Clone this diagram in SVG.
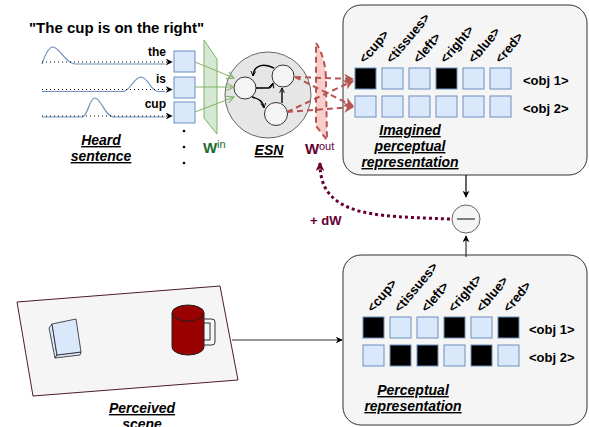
<svg xmlns="http://www.w3.org/2000/svg" width="589" height="427" viewBox="0 0 589 427">
  <style>
    text { font-family: "Liberation Sans", Arial, sans-serif; font-weight: bold; fill: #000; }
    .cap { font-size: 14px; font-style: italic; text-decoration: underline; }
    .word { font-size: 12px; }
    .col { font-size: 13px; }
    .obj { font-size: 13px; }
    .cell { fill: #dae8fc; stroke: #6c8ebf; stroke-width: 1; }
    .on { fill: #000; }
    .panel { fill: #f5f5f5; stroke: #333; stroke-width: 1; }
    .wave { fill: none; stroke: #6c8ebf; stroke-width: 1.2; }
    .tick { fill: none; stroke: #000; stroke-width: 1; stroke-dasharray: 1 3; }
    .node { fill: #f5f5f5; stroke: #333; stroke-width: 1; }
    .rec { fill: none; stroke: #000; stroke-width: 1.4; }
    .win { fill: none; stroke: #82b366; stroke-width: 1; }
    .wout { fill: none; stroke: #b85450; stroke-width: 2; stroke-dasharray: 6 4; }
    .sup { font-size: 11px; font-weight: normal; }
  </style>
  <defs>
    <marker id="blk" viewBox="0 0 10 10" refX="9" refY="5" markerWidth="7" markerHeight="7" orient="auto" markerUnits="userSpaceOnUse">
      <path d="M0,0 L10,5 L0,10 L3,5 Z" fill="#000"/>
    </marker>
    <marker id="open" viewBox="0 0 10 10" refX="9" refY="5" markerWidth="6" markerHeight="6" orient="auto" markerUnits="userSpaceOnUse">
      <path d="M1,1 L9,5 L1,9" fill="none" stroke="#000" stroke-width="1.5"/>
    </marker>
    <marker id="grn" viewBox="0 0 10 10" refX="9" refY="5" markerWidth="9" markerHeight="9" orient="auto" markerUnits="userSpaceOnUse">
      <path d="M1,1 L9,5 L1,9" fill="none" stroke="#82b366" stroke-width="1.2"/>
    </marker>
    <marker id="red" viewBox="0 0 10 10" refX="9" refY="5" markerWidth="10" markerHeight="10" orient="auto" markerUnits="userSpaceOnUse">
      <path d="M0,0 L10,5 L0,10 L3,5 Z" fill="#b85450"/>
    </marker>
    <marker id="mar" viewBox="0 0 10 10" refX="9" refY="5" markerWidth="9" markerHeight="9" orient="auto" markerUnits="userSpaceOnUse">
      <path d="M0,0 L10,5 L0,10 L3,5 Z" fill="#660033"/>
    </marker>
  </defs>

  <!-- sentence heading -->
  <text x="116.5" y="33" font-size="15" text-anchor="middle">"The cup is on the right"</text>

  <!-- word signals -->
  <g id="signals">
    <path class="wave" d="M42,64 C46,52 49,47 53,47 C59,47 66,64 75,64 L165,64"/>
    <path class="wave" d="M42,91.5 L123,91.5 C130,91.5 134,77 141,77 C148,77 151,91.5 158,91.5 L165,91.5"/>
    <path class="wave" d="M42,117 L82,117 C88,117 89,98 95,98 C101,98 105,117 114,117 L165,117"/>
    <path class="tick" d="M42,62 L172,62" marker-end="url(#blk)"/>
    <path class="tick" d="M42,89.5 L172,89.5" marker-end="url(#blk)"/>
    <path class="tick" d="M42,116 L172,116" marker-end="url(#blk)"/>
    <text class="word" x="166" y="56" text-anchor="end">the</text>
    <text class="word" x="166" y="83" text-anchor="end">is</text>
    <text class="word" x="166" y="108" text-anchor="end">cup</text>
    <text class="cap" x="101" y="145" text-anchor="middle">Heard</text>
    <text class="cap" x="101" y="161" text-anchor="middle">sentence</text>
  </g>

  <!-- one-hot input units -->
  <g id="inputs">
    <rect class="cell" x="174" y="51" width="21" height="21"/>
    <rect class="cell" x="174" y="77" width="21" height="21"/>
    <rect class="cell" x="174" y="102" width="21" height="21"/>
    <circle cx="184" cy="131" r="1.3" fill="#000"/>
    <circle cx="184" cy="147" r="1.3" fill="#000"/>
    <circle cx="184" cy="163" r="1.3" fill="#000"/>
  </g>

  <!-- input weights -->
  <g id="w-in">
    <path d="M204,40 L217,59 L217,134 L204,118 Z" fill="#d5e8d4" stroke="#82b366" stroke-width="1"/>
    <text x="203" y="153" font-size="15" style="fill:#1a6b30">W</text>
    <text class="sup" x="217" y="148" style="fill:#1a6b30">in</text>
  </g>

  <!-- reservoir -->
  <g id="esn">
    <circle cx="268" cy="95" r="43" fill="#e6e6e6" stroke="#666" stroke-width="1"/>
    <circle class="node" cx="245" cy="88" r="11"/>
    <circle class="node" cx="283" cy="76" r="11"/>
    <circle class="node" cx="276" cy="114" r="11.5"/>
    <path class="rec" d="M274,68 C266,64 254,63 253,76" marker-end="url(#open)"/>
    <path class="rec" d="M256,88 L268,88 C271,88 272,86 273,83" marker-end="url(#open)"/>
    <path class="rec" d="M252,97 C259,99 263,101 264,108" marker-end="url(#open)"/>
    <path class="rec" d="M282,103 L282,88" marker-end="url(#open)"/>
    <text class="cap" x="269" y="155" text-anchor="middle">ESN</text>
  </g>

  <!-- output weights -->
  <g id="w-out">
    <path d="M316,43 Q326,58 326,82 L327,140 L316,126 Z" fill="#f8cecc" stroke="none"/>
    <path class="wout" d="M316,43 Q326,58 326,82 L327,140 L316,126 Z"/>
    <text x="305" y="154" font-size="15" style="fill:#660033">W</text>
    <text class="sup" x="319" y="150" style="fill:#660033">out</text>
  </g>

  <!-- imagined perceptual representation -->
  <g id="imagined">
    <rect class="panel" x="343" y="5" width="244" height="170" rx="18"/>
    <rect class="cell on" x="355" y="68" width="21" height="21"/>
    <rect class="cell" x="382" y="68" width="21" height="21"/>
    <rect class="cell" x="409" y="68" width="21" height="21"/>
    <rect class="cell on" x="436" y="68" width="21" height="21"/>
    <rect class="cell" x="463" y="68" width="21" height="21"/>
    <rect class="cell" x="490" y="68" width="21" height="21"/>
    <rect class="cell" x="355" y="96" width="21" height="21"/>
    <rect class="cell" x="382" y="96" width="21" height="21"/>
    <rect class="cell" x="409" y="96" width="21" height="21"/>
    <rect class="cell" x="436" y="96" width="21" height="21"/>
    <rect class="cell" x="463" y="96" width="21" height="21"/>
    <rect class="cell" x="490" y="96" width="21" height="21"/>
    <text class="col" transform="translate(365,64) rotate(-50)">&lt;cup&gt;</text>
    <text class="col" transform="translate(392,64) rotate(-50)">&lt;tissues&gt;</text>
    <text class="col" transform="translate(419,64) rotate(-50)">&lt;left&gt;</text>
    <text class="col" transform="translate(446,64) rotate(-50)">&lt;right&gt;</text>
    <text class="col" transform="translate(474,64) rotate(-50)">&lt;blue&gt;</text>
    <text class="col" transform="translate(501,64) rotate(-50)">&lt;red&gt;</text>
    <text class="obj" x="523" y="85">&lt;obj 1&gt;</text>
    <text class="obj" x="523" y="113">&lt;obj 2&gt;</text>
    <text class="cap" x="410" y="135" text-anchor="middle">Imagined</text>
    <text class="cap" x="410" y="151" text-anchor="middle">perceptual</text>
    <text class="cap" x="410" y="167" text-anchor="middle">representation</text>
  </g>

  <!-- difference unit -->
  <g id="minus">
    <circle cx="466" cy="219" r="14" fill="#f5f5f5" stroke="#666" stroke-width="1"/>
    <line x1="457" y1="219" x2="475" y2="219" stroke="#333" stroke-width="1.2"/>
  </g>

  <!-- perceived scene -->
  <g id="scene">
    <polygon points="17,302 220,286 238,380 33,396" fill="#f5f5f5" stroke="#4d1a33" stroke-width="1"/>
    <polygon points="49,328 52,324 57,355 55,358" fill="#dae8fc" stroke="#222" stroke-width="0.8"/>
    <polygon points="57,355 81,352 80,355 55,358" fill="#dae8fc" stroke="#222" stroke-width="0.8"/>
    <polygon points="52,324 76,319 81,352 57,355" fill="#dae8fc" stroke="#222" stroke-width="0.8"/>
    <rect x="201" y="319" width="14" height="26" rx="3" fill="#f5f5f5" stroke="#333" stroke-width="1"/>
    <rect x="203" y="323" width="7" height="17" fill="#f5f5f5" stroke="#333" stroke-width="1"/>
    <path d="M172,313 L172,347 A16,8 0 0 0 204,347 L204,313 Z" fill="#990000" stroke="#222" stroke-width="1"/>
    <ellipse cx="188" cy="313" rx="16" ry="8" fill="#990000" stroke="#222" stroke-width="1"/>
    <text class="cap" x="142" y="413" text-anchor="middle">Perceived</text>
    <text class="cap" x="142" y="429" text-anchor="middle">scene</text>
  </g>

  <!-- perceptual representation -->
  <g id="perceptual">
    <rect class="panel" x="343" y="255" width="244" height="170" rx="18"/>
    <rect class="cell on" x="363" y="317" width="21" height="21"/>
    <rect class="cell" x="390" y="317" width="21" height="21"/>
    <rect class="cell" x="417" y="317" width="21" height="21"/>
    <rect class="cell on" x="444" y="317" width="21" height="21"/>
    <rect class="cell" x="471" y="317" width="21" height="21"/>
    <rect class="cell on" x="498" y="317" width="21" height="21"/>
    <rect class="cell" x="363" y="345" width="21" height="21"/>
    <rect class="cell on" x="390" y="345" width="21" height="21"/>
    <rect class="cell on" x="417" y="345" width="21" height="21"/>
    <rect class="cell" x="444" y="345" width="21" height="21"/>
    <rect class="cell on" x="471" y="345" width="21" height="21"/>
    <rect class="cell" x="498" y="345" width="21" height="21"/>
    <text class="col" transform="translate(373,313) rotate(-50)">&lt;cup&gt;</text>
    <text class="col" transform="translate(400,313) rotate(-50)">&lt;tissues&gt;</text>
    <text class="col" transform="translate(427,313) rotate(-50)">&lt;left&gt;</text>
    <text class="col" transform="translate(454,313) rotate(-50)">&lt;right&gt;</text>
    <text class="col" transform="translate(482,313) rotate(-50)">&lt;blue&gt;</text>
    <text class="col" transform="translate(509,313) rotate(-50)">&lt;red&gt;</text>
    <text class="obj" x="529" y="334">&lt;obj 1&gt;</text>
    <text class="obj" x="529" y="362">&lt;obj 2&gt;</text>
    <text class="cap" x="413" y="395" text-anchor="middle">Perceptual</text>
    <text class="cap" x="413" y="411" text-anchor="middle">representation</text>
  </g>

  <!-- connectors -->
  <g id="connectors">
    <path class="win" d="M195,62 L234,78" marker-end="url(#grn)"/>
    <path class="win" d="M195,87 L234,87" marker-end="url(#grn)"/>
    <path class="win" d="M195,112 L234,97" marker-end="url(#grn)"/>
    <path class="wout" d="M295,77 L353,79" marker-end="url(#red)"/>
    <path class="wout" d="M295,77 L353,106" marker-end="url(#red)"/>
    <path class="wout" d="M287,112 L353,81" marker-end="url(#red)"/>
    <path class="wout" d="M287,112 L353,107" marker-end="url(#red)"/>
    <path d="M466,175 L466,197" stroke="#000" stroke-width="1.2" fill="none" marker-end="url(#blk)"/>
    <path d="M466,257 L466,236" stroke="#333" stroke-width="1.2" fill="none" marker-end="url(#blk)"/>
    <path d="M232,340 L342,340" stroke="#333" stroke-width="1" fill="none" marker-end="url(#blk)"/>
    <path d="M450,219 C400,217 362,217 340,203 C326,194 320,182 320,163" stroke="#660033" stroke-width="3" stroke-dasharray="3 3" fill="none" marker-end="url(#mar)"/>
    <text x="310" y="225" font-size="13" style="fill:#660033">+ dW</text>
  </g>
</svg>
